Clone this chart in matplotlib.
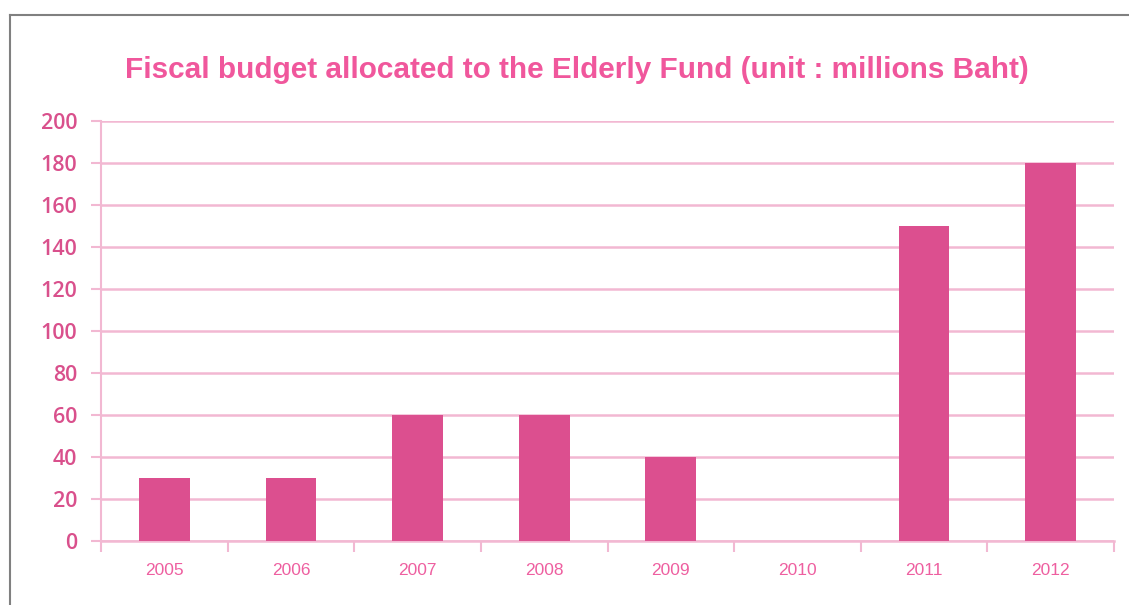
import matplotlib
matplotlib.use("Agg")
import matplotlib.pyplot as plt
from matplotlib.lines import Line2D

years = ["2005", "2006", "2007", "2008", "2009", "2010", "2011", "2012"]
budget = [30, 30, 60, 60, 40, 0, 150, 180]
yticks = [0, 20, 40, 60, 80, 100, 120, 140, 160, 180, 200]

bar_color = "#DC4F8F"
grid_color = "#F2B8D2"
title_color = "#F0579C"
ylab_color = "#D9508C"
xlab_color = "#EE5FA0"

fig = plt.figure(figsize=(11.29, 6.05), dpi=100)
ax = fig.add_axes([101/1129, 1-541/605, (1114-101)/1129, (541-121)/605])

x = list(range(len(years)))
ax.bar(x, budget, width=0.4, color=bar_color, zorder=3)
ax.set_xlim(-0.5, len(years)-0.5)
ax.set_ylim(0, 200)
ax.set_yticks(yticks)
ax.set_yticklabels([str(v) for v in yticks], fontsize=15.5, color=ylab_color,
                   fontfamily="Open Sans", fontweight="semibold")
ax.set_xticks(x)
ax.set_xticklabels(years, fontsize=12.5, color=xlab_color, fontfamily="Liberation Sans")
ax.set_xticks([i - 0.5 for i in range(len(years)+1)], minor=True)
ax.tick_params(axis="x", which="major", length=0, pad=16)
ax.tick_params(axis="x", which="minor", length=8, color=grid_color, width=1.5)
ax.tick_params(axis="y", length=7, color=grid_color, width=1.5, pad=10)
ax.grid(axis="y", color=grid_color, linewidth=1.8, zorder=0)
for s in ["top", "right"]:
    ax.spines[s].set_visible(False)
ax.spines["left"].set_color(grid_color)
ax.spines["left"].set_linewidth(1.5)
ax.spines["bottom"].set_color(grid_color)
ax.spines["bottom"].set_linewidth(1.8)

fig.text(577/1129, 1-70/605, "Fiscal budget allocated to the Elderly Fund (unit : millions Baht)",
         ha="center", va="center", fontsize=21.4, fontweight="bold", color=title_color,
         fontfamily="Liberation Sans")

# outer frame lines
fig.add_artist(Line2D([10/1129, 10/1129], [0, 1-15/605], transform=fig.transFigure,
                      color="#808080", linewidth=1.5))
fig.add_artist(Line2D([10/1129, 1], [1-15/605, 1-15/605], transform=fig.transFigure,
                      color="#808080", linewidth=1.5))

fig.savefig("out.png", dpi=100)
